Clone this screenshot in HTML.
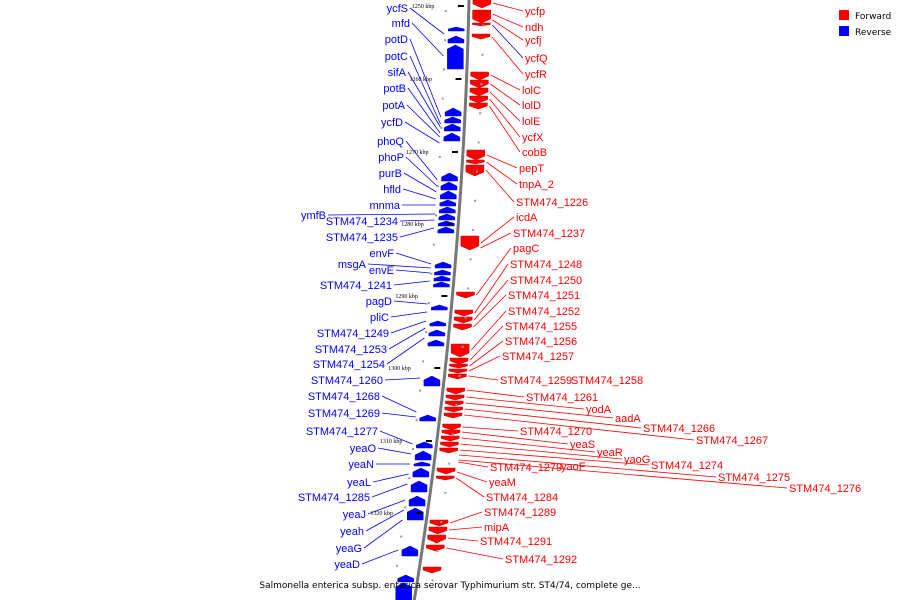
<!DOCTYPE html>
<html><head><meta charset="utf-8"><style>
html,body{margin:0;padding:0;background:#fff;width:900px;height:600px;overflow:hidden}
svg{display:block;font-family:"Liberation Sans","DejaVu Sans",sans-serif}
</style></head><body>
<svg id="map" width="900" height="600" viewBox="0 0 900 600" xmlns="http://www.w3.org/2000/svg">
<g id="lines"></g>
<g id="genes"></g>
<path id="axis" fill="none" stroke="#777" stroke-width="3"/>
<g id="ticks"></g>
<g id="labels"></g>
<g>
<rect x="839" y="10" width="10" height="10" fill="#f00"/>
<text x="855" y="19" font-size="9" font-family="DejaVu Sans, sans-serif">Forward</text>
<rect x="839" y="26" width="10" height="10" fill="#00f"/>
<text x="855" y="35" font-size="9" font-family="DejaVu Sans, sans-serif">Reverse</text>
</g>
<text x="450" y="588" font-size="9" text-anchor="middle" font-family="DejaVu Sans, sans-serif">Salmonella enterica subsp. enterica serovar Typhimurium str. ST4/74, complete ge...</text>
</svg>
<script>
const tickLabels=["1250 kbp","1260 kbp","1270 kbp","1280 kbp","1290 kbp","1300 kbp","1310 kbp","1320 kbp"];
const tickY=[6,79,152,224,296,368,441,513];
const revNames=["ycfS","mfd","potD","potC","sifA","potB","potA","ycfD","phoQ","phoP","purB","hfld","mnma","ymfB","STM474_1234","STM474_1235","envF","msgA","envE","STM474_1241","pagD","pliC","STM474_1249","STM474_1253","STM474_1254","STM474_1260","STM474_1268","STM474_1269","STM474_1277","yeaO","yeaN","yeaL","STM474_1285","yeaJ","yeah","yeaG","yeaD"];
const revLabelY=[8,23,39,56,72,88,105,122,141,157,173,189,205,215,221,237,253,264,270,285,301,317,333,349,364,380,396,413,431,448,464,482,497,514,531,548,564];
const revLabelEnd=[408,410,408,408,406,406,405,403,404,404,402,401,400,326,398,398,394,366,394,392,392,389,389,387,385,383,380,380,378,376,374,371,370,366,364,362,360];
const revTarget=[34,56,117,124,127,133,137,143,180,186,192,199,205,214,220,228,264,268,273,281,304,312,321,328,338,378,412,417,444,454,464,474,484,500,510,520,550];
const fwdNames=["ycfp","ndh","ycfj","ycfQ","ycfR","lolC","lolD","lolE","ycfX","cobB","pepT","tnpA_2","STM474_1226","icdA","STM474_1237","pagC","STM474_1248","STM474_1250","STM474_1251","STM474_1252","STM474_1255","STM474_1256","STM474_1257","STM474_1259","STM474_1258","STM474_1261","yodA","aadA","STM474_1266","STM474_1267","STM474_1270","yeaS","yeaR","yaoG","STM474_1274","STM474_1275","STM474_1276","STM474_1279","yaoF","yeaM","STM474_1284","STM474_1289","mipA","STM474_1291","STM474_1292"];
const fwdLabelX=[525,525,525,525,525,522,522,522,522,522,519,519,516,516,513,513,510,510,508,508,505,505,502,500,571,526,586,615,643,696,520,570,597,624,651,718,789,490,561,489,486,484,484,480,505];
const fwdLabelY=[11,27,40,58,74,90,105,121,137,152,168,184,202,217,233,248,264,280,295,311,326,341,356,380,380,397,409,418,428,440,431,444,452,459,465,477,488,467,466,482,497,512,527,541,559];
const fwdTarget=[3,14,20,25,37,75,84,92,99,106,155,162,170,243,248,295,313,320,327,350,360,366,371,376,null,390,397,403,409,415,427,432,438,444,450,455,460,462,null,472,478,523,530,538,548];
const fwdLineBlue=[3];
const revGenes=[[27,31],[36,43],[45,69],[108,116],[117,123],[124,131],[133,141],[173,181],[182,190],[191,199],[200,206],[207,213],[214,220],[221,226],[227,233],[262,268],[270,275],[276,281],[282,287],[305,310],[321,326],[330,336],[340,346],[376,386],[415,421],[442,448],[451,460],[462,466],[468,477],[481,492],[496,506],[508,520],[546,556],[575,582],[583,600]];
const fwdGenes=[[0,8],[10,16],[12,23],[23,26],[34,39],[72,80],[80,88],[88,96],[96,103],[103,109],[150,160],[160,164],[165,176],[236,250],[292,298],[310,316],[317,323],[324,330],[344,357],[358,364],[364,368],[369,373],[374,379],[388,394],[395,400],[401,406],[407,412],[413,418],[424,430],[430,435],[436,441],[442,447],[448,453],[468,474],[476,480],[520,526],[527,534],[535,543],[545,551],[567,573]];

const NS="http://www.w3.org/2000/svg";
function ax(y){return 469-0.022*y-0.0001152*y*y;}
function mk(tag,attrs,parent){const e=document.createElementNS(NS,tag);for(const k in attrs)e.setAttribute(k,attrs[k]);parent.appendChild(e);return e;}
let d="";for(let y=-5;y<=605;y+=5){d+=(y<0?"M":"L")+ax(y).toFixed(1)+","+y+" ";}
document.getElementById("axis").setAttribute("d",d);

const T=document.getElementById("ticks");
tickLabels.forEach((t,i)=>{const y=tickY[i],x=ax(y);
 const r=mk("rect",{x:x-11,y:y-1,width:6,height:2,fill:"#000"},T);
 
 
 const tx=mk("text",{x:x-57,y:y+2,"font-size":"6",fill:"#000","font-family":"Liberation Serif, serif"},T);tx.textContent=t;
 
 
});
for(let i=0;i<40;i++){const y=10+i*14.6;const x=ax(y);
 const c=mk("rect",{x:(i%2?x+14:x-24),y:y,width:2,height:2,fill:"#999"},T);
 
 
}

const G=document.getElementById("genes");
fwdGenes.forEach(([a,b])=>{const x=ax((a+b)/2)+4,h=b-a,ah=Math.min(4,h*0.5);
 const p=mk("polygon",{points:`${x},${a} ${x+18},${a} ${x+18},${b-ah} ${x+9},${b} ${x},${b-ah}`,fill:"#f00",stroke:"#c00","stroke-width":"0.5"},G);
 
 
});
revGenes.forEach(([a,b])=>{const x=ax((a+b)/2)-4,h=b-a,ah=Math.min(4,h*0.5);
 const p=mk("polygon",{points:`${x},${b} ${x-16},${b} ${x-16},${a+ah} ${x-8},${a} ${x},${a+ah}`,fill:"#00f",stroke:"#00c","stroke-width":"0.5"},G);
 
 
});

const L=document.getElementById("lines"),LB=document.getElementById("labels");
revNames.forEach((n,i)=>{const y=revLabelY[i],t=revTarget[i];
 const ln=mk("line",{x1:revLabelEnd[i]+2,y1:y,x2:ax(t)-24,y2:t,stroke:"#00f","stroke-width":"0.8"},L);
 
 
 const tx=mk("text",{x:revLabelEnd[i],y:y+4,"font-size":"11",fill:"#00f","text-anchor":"end"},LB);tx.textContent=n;
 
 
});
fwdNames.forEach((n,i)=>{const y=fwdLabelY[i],t=fwdTarget[i];
 if(t!==null){const ln=mk("line",{x1:fwdLabelX[i]-2,y1:y,x2:ax(t)+24,y2:t,stroke:fwdLineBlue.includes(i)?"#00f":"#f00","stroke-width":"0.8"},L);
  
  }
 const tx=mk("text",{x:fwdLabelX[i],y:y+4,"font-size":"11",fill:"#f00"},LB);tx.textContent=n;
 
 
});
</script>
</body></html>
